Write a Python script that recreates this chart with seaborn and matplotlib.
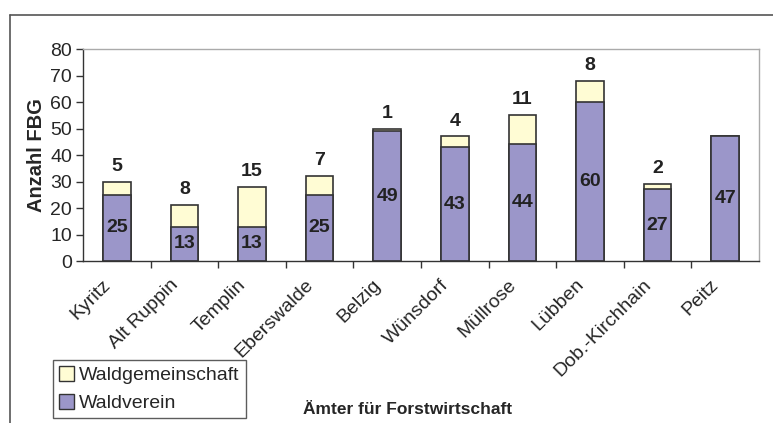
import numpy as np
import pandas as pd
import seaborn as sns
import matplotlib.pyplot as plt
from matplotlib.lines import Line2D
from matplotlib.patches import Patch
from matplotlib.transforms import ScaledTranslation

# Data
aemter = ["Kyritz", "Alt Ruppin", "Templin", "Eberswalde", "Belzig",
          "Wünsdorf", "Müllrose", "Lübben", "Dob.-Kirchhain", "Peitz"]
waldverein = [25, 13, 13, 25, 49, 43, 44, 60, 27, 47]
waldgemeinschaft = [5, 8, 15, 7, 1, 4, 11, 8, 2, 0]

df = pd.DataFrame({"amt": aemter, "verein": waldverein, "gemeinschaft": waldgemeinschaft})
df["total"] = df["verein"] + df["gemeinschaft"]

purple = "#9b96c9"
yellow = "#fffcd4"
edge = "#333333"

sns.set_style("white")
plt.rcParams["font.family"] = ["Liberation Sans", "DejaVu Sans"]

fig = plt.figure(figsize=(7.73, 4.23), dpi=100)
ax = fig.add_axes([83 / 773, 1 - 261 / 423, (759 - 83) / 773, (261 - 49) / 423])

# stacked bars: totals (yellow) underneath, Waldverein (purple) drawn over them
sns.barplot(data=df, x="amt", y="total", color=yellow, edgecolor=edge,
            linewidth=1.2, width=0.41, saturation=1, ax=ax)
sns.barplot(data=df, x="amt", y="verein", color=purple, edgecolor=edge,
            linewidth=1.2, width=0.41, saturation=1, ax=ax)

# value labels
for i, row in df.iterrows():
    ax.text(i, row["verein"] / 2, str(row["verein"]), ha="center", va="center",
            fontsize=14, fontweight="bold", color="#222222")
    if row["gemeinschaft"] > 0:
        ax.annotate(str(row["gemeinschaft"]), (i, row["total"]), xytext=(0, 5),
                    textcoords="offset points", ha="center", va="bottom",
                    fontsize=14, fontweight="bold", color="#222222")

ax.set_ylim(0, 80)
ax.set_xlim(-0.5, len(aemter) - 0.5)
ax.set_yticks(range(0, 81, 10))
ax.tick_params(axis="y", labelsize=14, length=5, width=1, color="#333333",
               direction="out", left=True, pad=3)

# x ticks between categories, labels rotated
ax.set_xticks(np.arange(len(aemter)))
ax.set_xticklabels(aemter, rotation=45, ha="right", rotation_mode="anchor")
ax.tick_params(axis="x", which="major", length=0, labelsize=14, pad=13)
shift = ScaledTranslation(-15 / 100, 3 / 100, fig.dpi_scale_trans)
for lab in ax.get_xticklabels():
    lab.set_transform(lab.get_transform() + shift)
ax.set_xticks(np.arange(0.5, len(aemter) - 0.5, 1), minor=True)
ax.tick_params(axis="x", which="minor", length=5, width=1, color="#333333",
               direction="out", bottom=True)

ax.set_ylabel("Anzahl FBG", fontsize=14.5, fontweight="bold")
ax.yaxis.set_label_coords(-0.055, 0.5)
ax.set_xlabel("Ämter für Forstwirtschaft", fontsize=12.5, fontweight="bold")
ax.xaxis.set_label_coords(0.48, -0.665)

for side in ["top", "right"]:
    ax.spines[side].set_visible(True)
    ax.spines[side].set_color("#aaaaaa")
    ax.spines[side].set_linewidth(1)
for side in ["left", "bottom"]:
    ax.spines[side].set_color("#333333")
    ax.spines[side].set_linewidth(1)

# legend
handles = [Patch(facecolor=yellow, edgecolor=edge, label="Waldgemeinschaft"),
           Patch(facecolor=purple, edgecolor=edge, label="Waldverein")]
leg = fig.legend(handles=handles, loc="lower left",
                 bbox_to_anchor=(53 / 773, 1 - 418 / 423), fontsize=14,
                 frameon=True, fancybox=False, handlelength=0.8, handleheight=0.8,
                 handletextpad=0.25, borderpad=0.3, labelspacing=0.5,
                 borderaxespad=0)
leg.get_frame().set_edgecolor("#333333")
leg.get_frame().set_linewidth(1)

# outer chart frame (top and left edges visible)
fig.add_artist(Line2D([10 / 773, 1], [1 - 15 / 423, 1 - 15 / 423],
                      transform=fig.transFigure, color="#555555", lw=1.2))
fig.add_artist(Line2D([10 / 773, 10 / 773], [0, 1 - 15 / 423],
                      transform=fig.transFigure, color="#555555", lw=1.2))

fig.savefig("out.png", dpi=100)
plt.close()
